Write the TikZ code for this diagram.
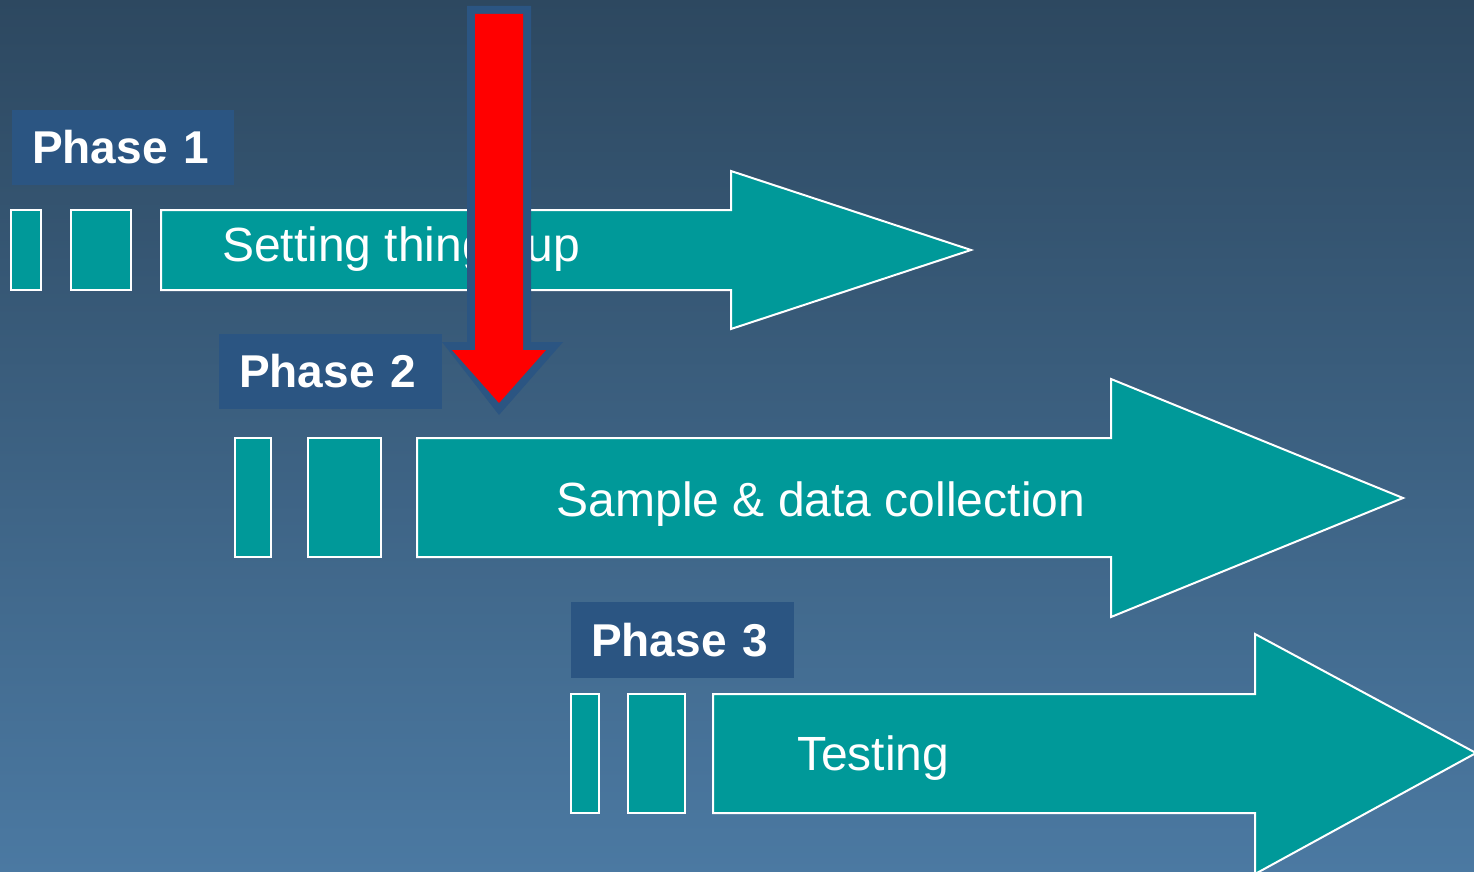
\documentclass[tikz,border=0pt]{standalone}
\usepackage{fontspec}
\setmainfont{Liberation Sans}
\definecolor{bgtop}{RGB}{45,72,96}
\definecolor{bgbot}{RGB}{75,121,162}
\definecolor{phasebox}{RGB}{43,85,130}
\definecolor{tealc}{RGB}{0,153,153}
\definecolor{redc}{RGB}{255,0,0}
\begin{document}
\begin{tikzpicture}[x=1pt,y=-1pt,
  phase/.style={fill=phasebox,inner xsep=20pt,inner ysep=0pt,text width=#1,align=left,anchor=west,
    text=white,font=\fontsize{46}{50}\selectfont\bfseries},
  blockshape/.style={fill=tealc,draw=white,line width=2pt},
  label/.style={text=white,font=\fontsize{48}{52}\selectfont,inner sep=0pt,anchor=west}
]
\useasboundingbox (0,0) rectangle (1474,872);
\shade[top color=bgtop,bottom color=bgbot] (0,0) rectangle (1474,872);

% Phase labels
\node[phase=182pt,minimum height=75pt] (p1) at (12,147.5) {Phase 1};
\node[phase=183pt,minimum height=75pt] (p2) at (219,371.5) {Phase 2};
\node[phase=183pt,minimum height=76pt] (p3) at (571,640) {Phase 3};

% Row 1
\draw[blockshape] (11,210) rectangle (41,290);
\draw[blockshape] (71,210) rectangle (131,290);
\draw[blockshape] (161,210) -- (731,210) -- (731,171) -- (971,250) -- (731,329) -- (731,290) -- (161,290) -- cycle;
\node[label] (t1) at (222,249) {Setting things up};

% Row 2
\draw[blockshape] (235,438) rectangle (271,557);
\draw[blockshape] (308,438) rectangle (381,557);
\draw[blockshape] (417,438) -- (1111,438) -- (1111,379) -- (1403,498) -- (1111,617) -- (1111,557) -- (417,557) -- cycle;
\node[label,anchor=center] (t2) at (821,504) {Sample \& data collection};

% Row 3
\draw[blockshape] (571,694) rectangle (599,813);
\draw[blockshape] (628,694) rectangle (685,813);
\draw[blockshape] (713,694) -- (1255,694) -- (1255,634) -- (1476,753) -- (1255,874) -- (1255,813) -- (713,813) -- cycle;
\node[label] (t3) at (797,758) {Testing};

% Red arrow
\fill[phasebox] (467,6) -- (531,6) -- (531,342) -- (563,342) -- (499,415) -- (442,342) -- (467,342) -- cycle;
\fill[redc] (475,14) -- (523,14) -- (523,350) -- (546,350) -- (499,403) -- (452,350) -- (475,350) -- cycle;
\end{tikzpicture}
\end{document}
